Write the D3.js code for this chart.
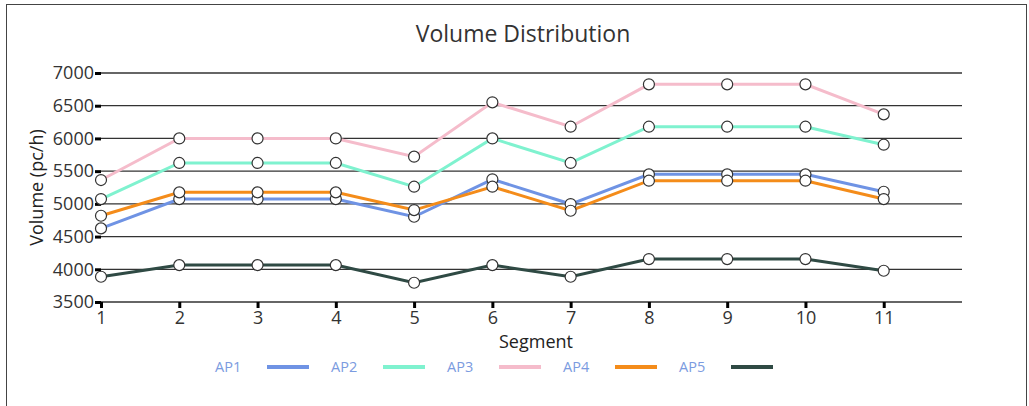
<!DOCTYPE html>
<html>
<head>
<meta charset="utf-8">
<script src="https://cdn.jsdelivr.net/npm/d3@7"></script>
<style>
  html, body { margin: 0; padding: 0; background: #fff; }
  svg { display: block; font-family: "Open Sans", "Noto Sans", sans-serif; }
</style>
</head>
<body>
<svg id="chart" width="1029" height="406"></svg>
<script>
const segments = [1, 2, 3, 4, 5, 6, 7, 8, 9, 10, 11];
const seriesNames = ["AP1", "AP2", "AP3", "AP4", "AP5"];
const ap1 = [4625, 5073, 5073, 5073, 4803, 5375, 4997, 5451, 5451, 5451, 5185];
const ap2 = [5073, 5625, 5625, 5625, 5262, 6000, 5625, 6179, 6179, 6179, 5904];
const ap3 = [5364, 6000, 6000, 6000, 5721, 6552, 6179, 6827, 6827, 6827, 6368];
const ap4 = [4818, 5176, 5176, 5176, 4905, 5262, 4895, 5354, 5354, 5354, 5073];
const ap5 = [3886, 4064, 4064, 4064, 3794, 4064, 3886, 4156, 4156, 4156, 3978];
const yTicks = [3500, 4000, 4500, 5000, 5500, 6000, 6500, 7000];
const colors = ["#6f93e4", "#7ff2cf", "#f5bccb", "#f48c1a", "#2f4a44"];

const seriesValues = [ap1, ap2, ap3, ap4, ap5];
const series = seriesNames.map((n, i) => ({
  name: n, color: colors[i],
  points: segments.map((s, j) => ({ x: s, y: seriesValues[i][j] }))
}));

const svg = d3.select("#chart");

// frame
svg.append("rect").attr("x", 6.5).attr("y", 4.5).attr("width", 1020).attr("height", 410)
  .attr("fill", "none").attr("stroke", "#444").attr("stroke-width", 1);

const x = d3.scaleLinear().domain([1, 12]).range([101, 962]);
const y = d3.scaleLinear().domain([3500, 7000]).range([302, 73]);

// title
svg.append("text").attr("x", 523).attr("y", 42).attr("text-anchor", "middle")
  .attr("font-size", 23).attr("fill", "#333").text("Volume Distribution");

// gridlines
svg.append("g").selectAll("line").data(yTicks).join("line")
  .attr("x1", x(1)).attr("x2", x(12))
  .attr("y1", d => y(d)).attr("y2", d => y(d))
  .attr("stroke", "#333").attr("stroke-width", 1.3);

// y axis
const yAxis = svg.append("g").attr("transform", `translate(${x(1)},0)`)
  .call(d3.axisLeft(y).tickValues(yTicks).tickSize(6).tickPadding(1).tickFormat(d3.format("d")));
yAxis.select(".domain").remove();
yAxis.selectAll(".tick line").attr("stroke", "#000").attr("stroke-width", 3);
yAxis.selectAll(".tick text").attr("font-size", 18).attr("fill", "#333")
  .attr("font-family", "\"Open Sans\", sans-serif");

// x axis
const xAxis = svg.append("g").attr("transform", `translate(0,${y(3500)})`)
  .call(d3.axisBottom(x).tickValues(segments).tickSize(6).tickPadding(3).tickFormat(d3.format("d")));
xAxis.select(".domain").remove();
xAxis.selectAll(".tick line").attr("stroke", "#000").attr("stroke-width", 3);
xAxis.selectAll(".tick text").attr("font-size", 18).attr("fill", "#333")
  .attr("font-family", "\"Open Sans\", sans-serif");

// axis labels
svg.append("text").attr("x", 536).attr("y", 348).attr("text-anchor", "middle")
  .attr("font-size", 18).attr("fill", "#222").text("Segment");
svg.append("text").attr("transform", `translate(43,${(y(3500) + y(7000)) / 2}) rotate(-90)`)
  .attr("text-anchor", "middle").attr("font-size", 18).attr("fill", "#222").text("Volume (pc/h)");

// lines and points
const line = d3.line().x(d => x(d.x)).y(d => y(d.y));
const groups = svg.append("g").selectAll("g").data(series).join("g");
groups.append("path").attr("d", d => line(d.points))
  .attr("fill", "none").attr("stroke", d => d.color).attr("stroke-width", 3);
groups.selectAll("circle").data(d => d.points).join("circle")
  .attr("cx", d => x(d.x)).attr("cy", d => y(d.y)).attr("r", 5.5)
  .attr("fill", "#fff").attr("stroke", "#333").attr("stroke-width", 1.2);

// legend
const legend = svg.append("g").selectAll("g").data(series).join("g")
  .attr("transform", (d, i) => `translate(${215 + i * 116},367)`);
legend.append("text").attr("x", 0).attr("y", 5).attr("font-size", 14.5)
  .attr("fill", "#7b9be0").text(d => d.name);
legend.append("line").attr("x1", 52).attr("x2", 94).attr("y1", 0).attr("y2", 0)
  .attr("stroke", d => d.color).attr("stroke-width", 4);
</script>
</body>
</html>
